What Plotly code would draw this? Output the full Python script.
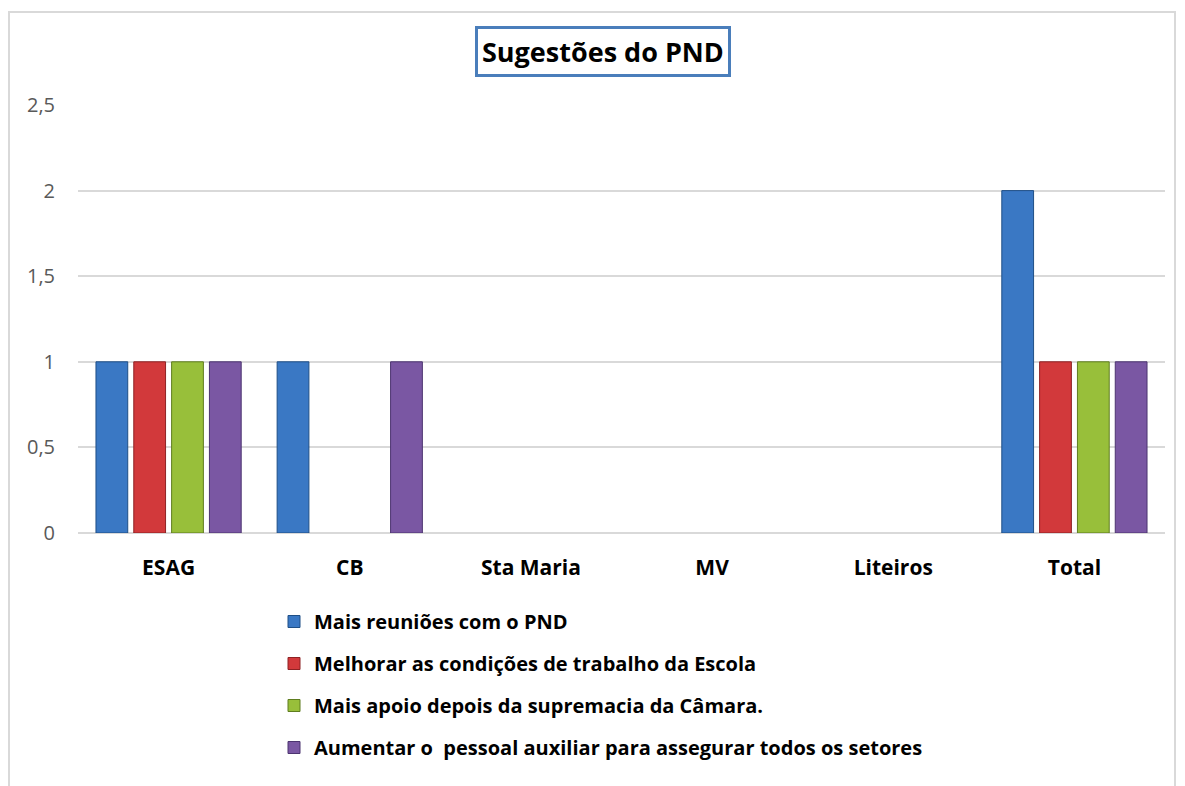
import plotly.graph_objects as go

categories = ["ESAG", "CB", "Sta Maria", "MV", "Liteiros", "Total"]
series_names = [
    "Mais reuniões com o PND",
    "Melhorar as condições de trabalho da Escola",
    "Mais apoio depois da supremacia da Câmara.",
    "Aumentar o  pessoal auxiliar para assegurar todos os setores",
]
s1 = [1, 1, 0, 0, 0, 2]
s2 = [1, 0, 0, 0, 0, 1]
s3 = [1, 0, 0, 0, 0, 1]
s4 = [1, 1, 0, 0, 0, 1]
y_ticks = [0, 0.5, 1, 1.5, 2, 2.5]
y_tick_labels = ["0", "0,5", "1", "1,5", "2", "2,5"]

colors = ["#3a78c4", "#d2393b", "#98bf3a", "#7a57a3"]
edge = ["#1f4f86", "#8e2224", "#5f7d1f", "#4c3470"]

FONT = "Open Sans, Lato, sans-serif"

# page body has an 8px margin; compensate
W, H = 1177, 778
L, R, T, B = 70, 20, 97, 253
PW = W - L - R
PH = H - T - B

def px_x(x):  # screen x -> paper
    return (x - 8 - L) / PW

def px_y(y):  # screen y -> paper
    return (H - B - (y - 8)) / PH

fig = go.Figure()
for i, (name, vals) in enumerate(zip(series_names, [s1, s2, s3, s4])):
    fig.add_trace(go.Bar(
        x=categories, y=vals, name=name,
        marker=dict(color=colors[i],
                    line=dict(color=edge[i], width=[1 if v else 0 for v in vals])),
        legendgroup=f"g{i}",
    ))

fig.update_layout(
    width=W, height=H,
    paper_bgcolor="white", plot_bgcolor="white",
    margin=dict(l=L, r=R, t=T, b=B),
    barmode="group", bargap=0.165, bargroupgap=0.16,
    font=dict(family=FONT, color="#000000"),
    showlegend=True,
    legend=dict(
        x=px_x(274), y=px_y(602), xanchor="left", yanchor="top",
        orientation="v", font=dict(size=20, color="#000000", family=FONT, weight="bold"),
        tracegroupgap=13, itemwidth=30, bgcolor="rgba(0,0,0,0)",
    ),
    xaxis=dict(
        showgrid=False, showline=False, ticks="",
        tickfont=dict(size=21, color="#000000", weight="bold", family=FONT),
        ticklabelstandoff=20,
    ),
    yaxis=dict(
        range=[0, 2.5], tickvals=y_ticks, ticktext=y_tick_labels,
        showgrid=True, gridcolor="#d9d9d9", gridwidth=1.5,
        zeroline=True, zerolinecolor="#d9d9d9", zerolinewidth=1.5,
        tickfont=dict(size=20, color="#595959", family=FONT),
        ticks="", ticklabelstandoff=22,
    ),
    annotations=[dict(
        text="<b>Sugestões do PND</b>", xref="paper", yref="paper",
        x=px_x(603), y=px_y(51), xanchor="center", yanchor="middle",
        showarrow=False, font=dict(size=27, color="#000000", family=FONT),
        bordercolor="#4a7ebb", borderwidth=3, borderpad=4, bgcolor="white",
    )],
    shapes=[dict(
        type="rect", xref="paper", yref="paper",
        x0=px_x(9), x1=px_x(1175),
        y0=px_y(800), y1=px_y(12),
        line=dict(color="#d9d9d9", width=2), layer="below",
    )],
)

fig.write_html("out.html")
